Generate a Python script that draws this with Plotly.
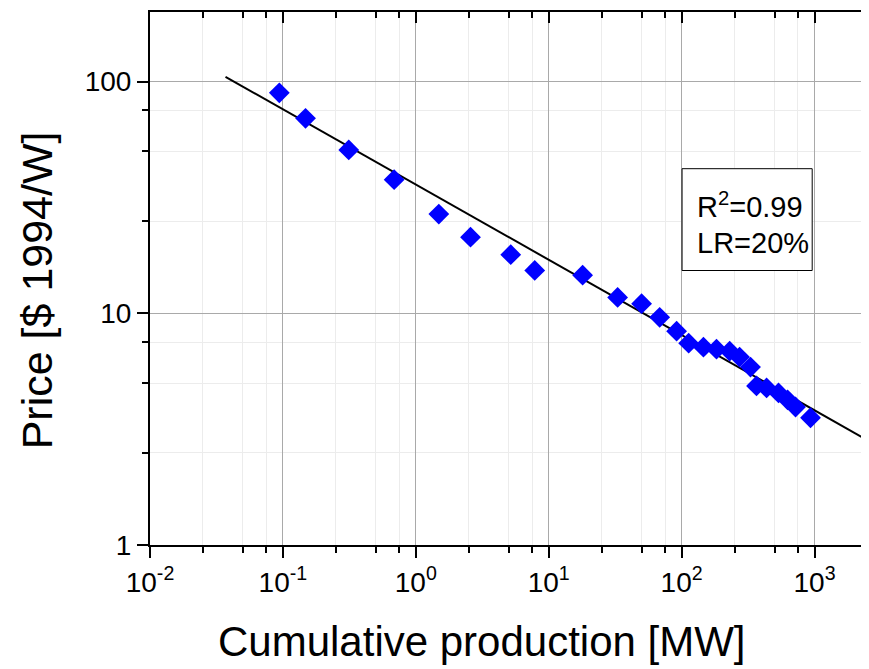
import plotly.graph_objects as go

# 누적 생산량 [MW] 과 가격 [$ 1994/W]
production_mw = [0.094, 0.148, 0.313, 0.687, 1.49, 2.58, 5.18, 7.85, 18.0, 33.0,
                 50.0, 68.4, 91.7, 113, 146, 183, 230, 273, 330, 366,
                 436, 536, 627, 720, 933]
price_usd = [89.4, 69.4, 50.7, 37.7, 26.8, 21.3, 17.9, 15.3, 14.6, 11.7,
             11.0, 9.6, 8.37, 7.43, 7.14, 7.0, 6.86, 6.47, 5.86, 4.86,
             4.76, 4.53, 4.23, 3.94, 3.54]

# 학습곡선 피팅 직선의 양 끝점
fit_x = [0.037, 2256]
fit_y = [104.8, 2.93]

x_tickvals = [0.01, 0.1, 1, 10, 100, 1000]
x_ticktext = ['10<sup>-2</sup>', '10<sup>-1</sup>', '10<sup>0</sup>',
              '10<sup>1</sup>', '10<sup>2</sup>', '10<sup>3</sup>']
y_tickvals = [1, 10, 100]
y_ticktext = ['1', '10', '100']
minor_vals = [m * 10 ** e for e in range(-2, 4) for m in (2.5, 5, 7.5)]

FONT = "Liberation Sans, Arial, sans-serif"

fig = go.Figure()

fig.add_trace(go.Scatter(
    x=fit_x, y=fit_y, mode='lines',
    line=dict(color='black', width=2),
    showlegend=False, hoverinfo='skip'
))

fig.add_trace(go.Scatter(
    x=production_mw, y=price_usd, mode='markers',
    marker=dict(symbol='diamond', size=16, color='#0000ff', line=dict(width=0)),
    showlegend=False
))

# 위쪽 축 (눈금이 안쪽으로)
fig.add_trace(go.Scatter(
    x=fit_x, y=fit_y, xaxis='x2', mode='lines', opacity=0,
    showlegend=False, hoverinfo='skip'
))

axis_common = dict(
    type='log',
    showline=True, linecolor='black', linewidth=2,
    ticks='outside', ticklen=11, tickwidth=2, tickcolor='black',
    showgrid=True, gridcolor='#a9a9a9', gridwidth=1,
    zeroline=False,
    tickfont=dict(family=FONT, size=28, color='black'),
)

fig.update_layout(
    width=869, height=669,
    margin=dict(l=142, r=8, t=4, b=132),
    plot_bgcolor='white', paper_bgcolor='white',
    font=dict(family=FONT, color='black'),
    xaxis=dict(
        axis_common,
        range=[-2, 3.41],
        tickvals=x_tickvals, ticktext=x_ticktext,
        minor=dict(tickvals=minor_vals, ticks='outside', ticklen=6, tickwidth=2,
                   tickcolor='black', showgrid=True, gridcolor='#ececec', gridwidth=1),
    ),
    xaxis2=dict(
        type='log', range=[-2, 3.41], overlaying='x', side='top',
        showline=True, linecolor='black', linewidth=2,
        ticks='inside', ticklen=11, tickwidth=2, tickcolor='black',
        tickvals=x_tickvals, showticklabels=False, showgrid=False, zeroline=False,
        minor=dict(tickvals=minor_vals, ticks='inside', ticklen=6, tickwidth=2,
                   tickcolor='black', showgrid=False),
    ),
    yaxis=dict(
        axis_common,
        range=[0, 2.3],
        tickvals=y_tickvals, ticktext=y_ticktext,
        minor=dict(tickvals=minor_vals, ticks='outside', ticklen=6, tickwidth=2,
                   tickcolor='black', showgrid=True, gridcolor='#ececec', gridwidth=1),
    ),
    shapes=[dict(type='rect', xref='paper', yref='paper',
                 x0=0.740, x1=0.921, y0=0.515, y1=0.706,
                 line=dict(color='black', width=1), fillcolor='white', layer='above')],
    annotations=[
        dict(text='Cumulative production [MW]', xref='paper', yref='paper',
             x=0.462, y=-0.181, xanchor='center', yanchor='middle', showarrow=False,
             font=dict(family=FONT, size=42, color='black')),
        dict(text='Price [$ 1994/W]', xref='paper', yref='paper', textangle=-90,
             x=-0.157, y=0.478, xanchor='center', yanchor='middle', showarrow=False,
             font=dict(family=FONT, size=43, color='black')),
        dict(text='R<sup>2</sup>=0.99', xref='paper', yref='paper', x=0.758, y=0.637,
             xanchor='left', yanchor='middle', showarrow=False,
             font=dict(family=FONT, size=29, color='black')),
        dict(text='LR=20%', xref='paper', yref='paper', x=0.758, y=0.566,
             xanchor='left', yanchor='middle', showarrow=False,
             font=dict(family=FONT, size=29, color='black')),
    ],
)

fig.write_html("out.html")
